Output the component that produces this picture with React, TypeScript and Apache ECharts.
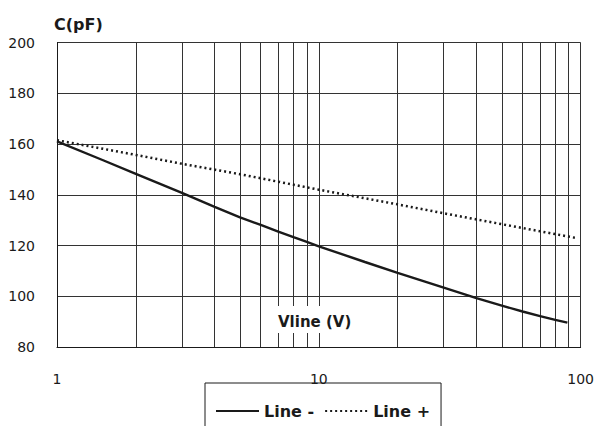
import React, { useEffect, useRef } from "react";
import * as echarts from "echarts";

const seriesNames = ["Line -", "Line +"];
const lineMinus: [number, number][] = [
  [1, 161], [1.5, 153.6], [2, 148.2], [3, 140.7], [4, 135.2], [5, 131.1], [6, 128.1],
  [7, 125.5], [8, 123.3], [9, 121.4], [10, 119.7], [15, 113.5], [20, 109.2], [30, 103.4],
  [40, 99.3], [50, 96.3], [60, 94], [70, 92.2], [80, 90.7], [89, 89.6],
];
const linePlus: [number, number][] = [
  [1, 161.5], [2, 155.7], [3, 152.2], [5, 148.1], [10, 142], [20, 136.2],
  [30, 132.7], [50, 128.4], [95.7, 123],
];
const minorGridX = [2, 3, 4, 5, 6, 7, 8, 9, 20, 30, 40, 50, 60, 70, 80, 90];
const yTicks = { min: 80, max: 200, interval: 20 };
const xRange = { min: 1, max: 100 };

const FONT = "'DejaVu Sans', Arial, sans-serif";
const INK = "#1a1a1a";

export default function App() {
  const ref = useRef<HTMLDivElement>(null);
  useEffect(() => {
    if (!ref.current) return;
    const chart = echarts.init(ref.current, null, { renderer: "svg" });
    chart.setOption({
      animation: false,
      textStyle: { fontFamily: FONT },
      grid: { left: 57, right: 11, top: 42.5, bottom: 79 },
      xAxis: {
        type: "log",
        logBase: 10,
        min: xRange.min,
        max: xRange.max,
        axisLine: { show: true, lineStyle: { color: INK, width: 1 } },
        axisTick: { show: false },
        axisLabel: { color: INK, fontSize: 14, margin: 25, fontFamily: FONT },
        splitLine: { show: true, lineStyle: { color: "#333", width: 1 } },
      },
      yAxis: {
        type: "value",
        min: yTicks.min,
        max: yTicks.max,
        interval: yTicks.interval,
        name: "C(pF)",
        nameLocation: "end",
        nameGap: 10,
        nameTextStyle: {
          align: "left",
          color: INK,
          fontSize: 16,
          fontWeight: "bold",
          fontFamily: FONT,
          padding: [0, 0, 0, -3],
        },
        axisLine: { show: true, lineStyle: { color: INK, width: 1 } },
        axisTick: { show: false },
        axisLabel: { color: INK, fontSize: 14, margin: 22, fontFamily: FONT },
        splitLine: { show: true, lineStyle: { color: "#333", width: 1 } },
      },
      legend: {
        data: seriesNames,
        left: 205,
        top: 383,
        orient: "horizontal",
        borderColor: INK,
        borderWidth: 1,
        padding: [20, 11, 30, 10],
        itemWidth: 43,
        itemHeight: 14,
        itemGap: 10,
        itemStyle: { opacity: 0 },
        textStyle: { color: INK, fontSize: 16, fontWeight: "bold", fontFamily: FONT },
      },
      graphic: [
        {
          type: "rect",
          z: 100,
          shape: { x: 270, y: 306, width: 92, height: 27 },
          style: { fill: "#fff" },
        },
        {
          type: "text",
          z: 101,
          x: 278,
          y: 322,
          style: {
            text: "Vline (V)",
            font: "bold 15px " + FONT,
            fill: INK,
            verticalAlign: "middle",
            align: "left",
          },
        },
      ],
      series: [
        {
          name: "grid",
          type: "line",
          data: [],
          silent: true,
          markLine: {
            silent: true,
            symbol: "none",
            label: { show: false },
            lineStyle: { color: "#333", width: 1, type: "solid" },
            data: minorGridX.map((v) => ({ xAxis: v })),
          },
        },
        {
          name: seriesNames[0],
          type: "line",
          data: lineMinus,
          smooth: false,
          symbol: "none",
          lineStyle: { color: INK, width: 2.4, type: "solid" },
          itemStyle: { color: INK },
          z: 5,
        },
        {
          name: seriesNames[1],
          type: "line",
          data: linePlus,
          smooth: false,
          symbol: "none",
          lineStyle: { color: INK, width: 2.5, type: [2, 3] },
          itemStyle: { color: INK },
          z: 5,
        },
      ],
    });
    return () => chart.dispose();
  }, []);
  return (
    <div
      ref={ref}
      style={{ position: "absolute", left: 0, top: 0, width: 597, height: 426 }}
    />
  );
}
